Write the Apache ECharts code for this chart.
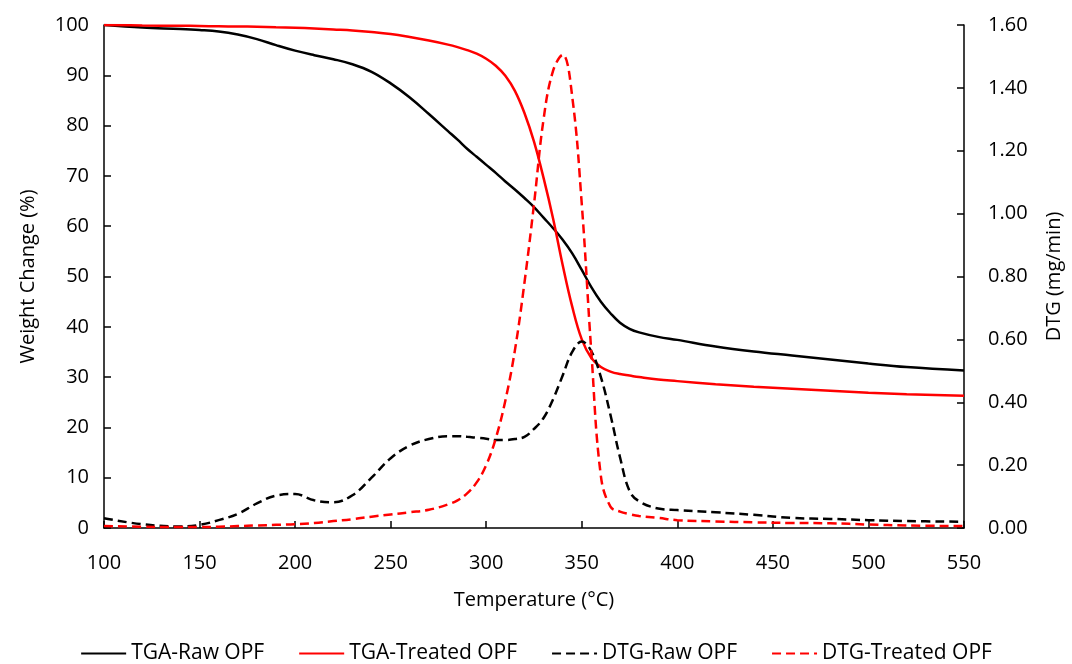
<!DOCTYPE html>
<html>
<head>
<meta charset="utf-8">
<script src="https://cdn.jsdelivr.net/npm/echarts@6/dist/echarts.min.js"></script>
<style>
html,body{margin:0;padding:0;background:#fff;}
#chart{width:1072px;height:664px;}
</style>
</head>
<body>
<div id="chart"></div>
<script>
// Temperature (°C)
var temps = [100,120,140,150,160,170,180,190,200,210,220,230,240,250,260,270,280,285,290,295,300,305,310,315,320,325,330,335,340,345,350,355,360,365,370,375,380,390,400,420,440,460,480,500,520,550];
// Weight change (%)
var tgaRaw = [100,99.5,99.2,99.0,98.7,98.1,97.2,96.0,94.9,94.0,93.2,92.2,90.7,88.4,85.6,82.3,78.9,77.2,75.4,73.8,72.2,70.6,68.9,67.3,65.6,63.8,61.7,59.6,57.3,54.6,51.3,47.9,45.0,42.7,40.8,39.6,38.9,38.0,37.4,36.1,35.1,34.3,33.5,32.7,32.0,31.3];
var tgaTreated = [100,99.9,99.85,99.8,99.75,99.7,99.65,99.55,99.45,99.3,99.1,98.9,98.6,98.2,97.6,96.9,96.1,95.6,95.0,94.3,93.3,91.9,89.9,86.9,82.5,76.8,69.6,61.5,52.3,44.0,37.5,33.8,32.0,31.1,30.6,30.3,30.0,29.5,29.2,28.6,28.1,27.7,27.3,26.9,26.6,26.3];
// DTG (mg/min)
var dtgRaw = [0.031,0.012,0.005,0.010,0.025,0.045,0.078,0.103,0.108,0.088,0.082,0.104,0.160,0.222,0.262,0.283,0.292,0.292,0.290,0.287,0.284,0.280,0.280,0.283,0.290,0.315,0.350,0.410,0.485,0.560,0.593,0.562,0.480,0.360,0.225,0.118,0.085,0.062,0.057,0.050,0.042,0.032,0.029,0.025,0.022,0.020];
var dtgTreated = [0.006,0.004,0.003,0.003,0.004,0.006,0.008,0.010,0.012,0.016,0.022,0.028,0.036,0.043,0.050,0.058,0.075,0.088,0.110,0.145,0.200,0.285,0.405,0.565,0.780,1.030,1.300,1.455,1.505,1.372,1.030,0.560,0.165,0.068,0.052,0.044,0.038,0.032,0.025,0.021,0.018,0.016,0.015,0.011,0.008,0.006];

var seriesNames = ['TGA-Raw OPF','TGA-Treated OPF','DTG-Raw OPF','DTG-Treated OPF'];

function pairs(vals){ return temps.map(function(t,i){ return [t, vals[i]]; }); }

var FONT = '"Open Sans", sans-serif';
var axisLine = {show:true, lineStyle:{color:'#000', width:1.5}};
var axisTick = {show:true, inside:true, length:7, lineStyle:{color:'#000', width:1.5}};
var labelStyle = {color:'#000', fontSize:20, fontFamily:FONT};

var chart = echarts.init(document.getElementById('chart'), null, {renderer:'canvas'});
chart.setOption({
  backgroundColor:'#fff',
  animation:false,
  grid:{left:104, right:106, top:25, bottom:136},
  legend:{
    data:seriesNames,
    top:638,
    left:'center',
    itemWidth:45,
    itemHeight:14,
    itemGap:34,
    itemStyle:{opacity:0},
    textStyle:{color:'#000', fontSize:21, fontFamily:FONT}
  },
  xAxis:{
    type:'value', min:100, max:550, interval:50,
    name:'Temperature (°C)', nameLocation:'middle', nameGap:62,
    nameTextStyle:{color:'#000', fontSize:20, fontFamily:FONT},
    axisLine:axisLine, axisTick:axisTick,
    axisLabel:Object.assign({margin:25}, labelStyle),
    splitLine:{show:false}
  },
  yAxis:[{
    type:'value', min:0, max:100, interval:10, position:'left',
    name:'Weight Change (%)', nameLocation:'middle', nameGap:66, nameRotate:90,
    nameTextStyle:{color:'#000', fontSize:20, fontFamily:FONT},
    axisLine:axisLine, axisTick:axisTick,
    axisLabel:Object.assign({margin:15}, labelStyle),
    splitLine:{show:false}
  },{
    type:'value', min:0, max:1.6, interval:0.2, position:'right',
    name:'DTG (mg/min)', nameLocation:'middle', nameGap:80, nameRotate:90,
    nameTextStyle:{color:'#000', fontSize:20, fontFamily:FONT},
    axisLine:axisLine, axisTick:axisTick,
    axisLabel:Object.assign({margin:24, formatter:function(v){return v.toFixed(2);}}, labelStyle),
    splitLine:{show:false}
  }],
  series:[
    {name:seriesNames[0], type:'line', yAxisIndex:0, data:pairs(tgaRaw), smooth:0.4, showSymbol:false, symbol:'none',
     lineStyle:{color:'#000', width:2.5}, itemStyle:{color:'#000'}},
    {name:seriesNames[1], type:'line', yAxisIndex:0, data:pairs(tgaTreated), smooth:0.4, showSymbol:false, symbol:'none',
     lineStyle:{color:'#ff0000', width:2.5}, itemStyle:{color:'#ff0000'}},
    {name:seriesNames[2], type:'line', yAxisIndex:1, data:pairs(dtgRaw), smooth:0.4, showSymbol:false, symbol:'none',
     lineStyle:{color:'#000', width:2.5, type:[9,5]}, itemStyle:{color:'#000'}},
    {name:seriesNames[3], type:'line', yAxisIndex:1, data:pairs(dtgTreated), smooth:0.4, showSymbol:false, symbol:'none',
     lineStyle:{color:'#ff0000', width:2.5, type:[9,5]}, itemStyle:{color:'#ff0000'}}
  ]
});
</script>
</body>
</html>
